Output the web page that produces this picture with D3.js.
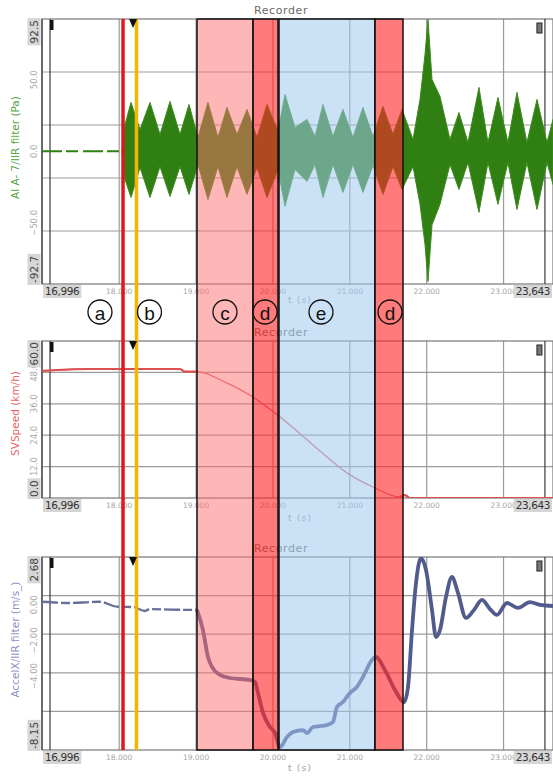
<!DOCTYPE html>
<html>
<head>
<meta charset="utf-8">
<script src="https://cdn.jsdelivr.net/npm/d3@7"></script>
<style>
  body{margin:0;background:#fff}
  svg{display:block}
</style>
</head>
<body>
<svg id="chart" width="553" height="777"></svg>
<script>
// time window of the recorder (s)
const tStart = 16.996, tEnd = 23.643;
const xTicks = [18, 19, 20, 21, 22, 23];

// microphone signal, drawn as its envelope (Pa)
const micT  = [18.037,18.076,18.154,18.271,18.401,18.531,18.661,18.791,18.908,19.025,19.155,19.285,19.402,19.532,19.663,19.793,19.923,20.066,20.157,20.287,20.443,20.547,20.651,20.781,20.911,21.041,21.171,21.301,21.431,21.561,21.679,21.822,21.913,21.978,22.017,22.069,22.173,22.303,22.420,22.537,22.680,22.797,22.927,23.057,23.174,23.304,23.435,23.565,23.643];
const micHi = [0,18.8,34.2,15.3,34.2,11.8,34.9,11.8,32.8,9.7,34.2,9.7,30.7,11.8,29.3,9.7,32.8,13.9,39.8,16.7,22.3,10.4,32.8,10.4,29.3,9.7,30.7,10.4,31.4,11.8,29.3,8.3,36.3,67.7,92.2,50.3,38.4,8.3,27.2,6.2,44.7,6.2,37.7,6.2,41.2,6.2,36.3,6.2,22.3];
const micLo = [0,-19.6,-32.2,-11.3,-32.2,-10.6,-31.5,-10.6,-30.1,-9.2,-33.6,-10.6,-32.2,-10.6,-30.1,-11.3,-32.2,-12.6,-38.4,-12.6,-21.0,-9.2,-32.2,-9.2,-28.7,-9.2,-28.7,-9.9,-30.1,-10.6,-26.6,-10.6,-37.0,-65.1,-90.9,-51.4,-37.0,-9.2,-26.6,-7.8,-42.6,-7.8,-37.0,-7.8,-40.6,-7.8,-40.6,-7.8,-23.1];
const micQuietT = [16.996, 18.037];
const micQuietV = [0, 0];
const micTicks = [50, 0, -50];

// vehicle speed (km/h)
const speedT = [16.996,17.594,18.791,18.856,19.012,19.376,19.740,19.923,20.092,20.521,20.963,21.301,21.653,21.718,21.783,23.643];
const speedV = [48.6,49.3,49.3,48.3,48.3,44.3,38.6,34.8,31.0,20.3,9.6,4.2,0.4,1.1,0,0];
const speedTicks = [48, 36, 24, 12];

// longitudinal acceleration (m/s²)
const accT = [16.996,17.360,17.620,17.750,17.972,18.180,18.336,18.401,18.661,19.012,19.090,19.155,19.207,19.311,19.441,19.702,19.767,19.806,19.871,19.962,20.027,20.092,20.183,20.261,20.391,20.443,20.521,20.703,20.781,20.833,20.911,21.002,21.093,21.171,21.288,21.340,21.457,21.588,21.705,21.757,21.809,21.861,21.926,21.991,22.069,22.121,22.173,22.251,22.329,22.407,22.511,22.615,22.719,22.823,22.914,23.044,23.187,23.343,23.474,23.643];
const accV = [0.17,0.10,0.15,0.17,-0.11,-0.13,-0.35,-0.24,-0.27,-0.29,-1.42,-2.93,-3.49,-3.94,-4.11,-4.22,-4.33,-4.95,-6.07,-6.86,-7.20,-7.99,-7.42,-7.14,-7.03,-7.20,-6.86,-6.75,-6.58,-5.74,-5.46,-4.95,-4.61,-4.05,-3.10,-2.93,-3.66,-4.78,-5.46,-4.61,-1.42,1.22,2.62,1.95,-0.29,-1.81,-1.42,0.44,1.56,0.66,-0.74,-0.29,0.27,-0.24,-0.57,0.10,-0.18,0.15,-0.01,-0.07];
const accTicks = [0, -2, -4];

// annotated phases
const phaseNames  = ["c", "d", "e", "d"];
const phaseStart  = [19.012, 19.741, 20.079, 21.327];
const phaseEnd    = [19.741, 20.066, 21.327, 21.692];
const phaseFill   = ["rgba(255,110,110,0.5)", "rgba(255,40,40,0.62)", "rgba(160,200,238,0.55)", "rgba(255,40,40,0.62)"];
const eventNames  = ["a", "b"];
const eventT      = [18.05, 18.225];
const eventColor  = ["#e4161c", "#f4b400"];
const labelNames  = ["a", "b", "c", "d", "e", "d"];
const labelT      = [17.750, 18.394, 19.376, 19.897, 20.625, 21.523];
const cursorT = [17.10, 23.538];
const markerT = 18.18;

const svg = d3.select("#chart");
const x = d3.scaleLinear().domain([tStart, tEnd]).range([42, 553]);
const uiFont = "DejaVu Sans, Verdana, sans-serif";

const panels = [
  {top:19,  bottom:284, domain:[-92.7, 92.5], ticks:micTicks,   fmt:d3.format(".1f"), hi:"92.5", lo:"-92.7", title:"Al A- 7/IIR filter (Pa)", tcol:"#56a545", tsy:0},
  {top:341, bottom:498, domain:[0, 60],       ticks:speedTicks, fmt:d3.format(".1f"), hi:"60.0", lo:"0.0",   title:"SVSpeed (km/h)", tcol:"#e46666", tsy:20},
  {top:557, bottom:750, domain:[-8.15, 2.68], ticks:accTicks,   fmt:d3.format(".2f"), hi:"2.68", lo:"-8.15", title:"AccelX/IIR filter (m/s_)", tcol:"#8c90c4", tsy:18}
];
panels.forEach(p=>{ p.y = d3.scaleLinear().domain(p.domain).range([p.bottom, p.top]); });

const defs = svg.append("defs");
panels.forEach((p,i)=>{
  defs.append("clipPath").attr("id","clip"+i)
    .append("rect").attr("x",42).attr("y",p.top).attr("width",511).attr("height",p.bottom-p.top);
});

const gBase = svg.append("g");

function rotLabel(g, px, py, txt, anchor, opts){
  const t = g.append("g").attr("transform",`translate(${px},${py}) rotate(-90)`);
  const text = t.append("text")
    .attr("text-anchor", anchor)
    .attr("dominant-baseline","central")
    .attr("font-family", uiFont)
    .attr("font-size", opts.size)
    .attr("fill", opts.color)
    .text(txt);
  if(opts.box){
    const w = text.node().getComputedTextLength();
    const u0 = anchor==="end" ? -w-2 : (anchor==="start" ? -2 : -w/2-2);
    t.insert("rect","text").attr("x",u0).attr("y",-6.5).attr("width",w+4).attr("height",13).attr("fill","#d6d6d6");
  }
}

panels.forEach((p,i)=>{
  const g = gBase.append("g");
  const h = p.bottom - p.top;

  // title
  g.append("text").attr("x",281).attr("y",p.top-5).attr("text-anchor","middle")
    .attr("font-family",uiFont).attr("font-size",11).attr("fill","#6b6b6b").attr("letter-spacing",0.6)
    .text("Recorder");

  // grid
  d3.range(1,5).forEach(k=>{
    const yy = p.top + k*h/5;
    g.append("line").attr("x1",42).attr("x2",553).attr("y1",yy).attr("y2",yy)
      .attr("stroke","#9b9b9b").attr("stroke-width",1.2);
  });
  xTicks.forEach(tk=>{
    g.append("line").attr("x1",x(tk)).attr("x2",x(tk)).attr("y1",p.top).attr("y2",p.bottom)
      .attr("stroke","#9b9b9b").attr("stroke-width",1.2);
  });
  g.append("rect").attr("x",42).attr("y",p.top).attr("width",511).attr("height",h)
    .attr("fill","none").attr("stroke","#777").attr("stroke-width",1.2);
  g.append("line").attr("x1",42).attr("x2",42).attr("y1",p.top).attr("y2",p.bottom)
    .attr("stroke","#555").attr("stroke-width",1.5);

  // cursors
  cursorT.forEach(c=>{
    g.append("line").attr("x1",x(c)).attr("x2",x(c)).attr("y1",p.top).attr("y2",p.bottom)
      .attr("stroke","#3a3a3a").attr("stroke-width",1.2);
  });
  g.append("rect").attr("x",x(cursorT[0])).attr("y",p.top+1).attr("width",3.5).attr("height",10).attr("fill","#111");
  g.append("rect").attr("x",x(cursorT[1])-8).attr("y",p.top+4).attr("width",5).attr("height",10)
    .attr("fill","#777").attr("stroke","#222").attr("stroke-width",1);

  // y ticks
  p.ticks.forEach(v=>{
    rotLabel(g, 34, p.y(v), p.fmt(v), "middle", {size:8.5, color:"#a8a8a8"});
  });
  rotLabel(g, 34, p.top+1, p.hi, "end", {size:10.5, color:"#444", box:true});
  rotLabel(g, 34, p.bottom-1, p.lo, "start", {size:10.5, color:"#444", box:true});
  rotLabel(g, 15, (p.top+p.bottom)/2 + (i===0?-4:(i===1?-6:-14)), p.title, "middle", {size:10.5, color:p.tcol});

  // x ticks
  xTicks.forEach(tk=>{
    g.append("text").attr("x",x(tk)).attr("y",p.bottom+10).attr("text-anchor","middle")
      .attr("font-family",uiFont).attr("font-size",7.5).attr("fill","#a5a5a5")
      .text(d3.format(".3f")(tk));
  });
  [[tStart,"start",43],[tEnd,"end",552]].forEach(([tv,anc,px])=>{
    const txt = g.append("text").attr("x",px+ (anc==="start"?2:-2)).attr("y",p.bottom+11).attr("text-anchor",anc)
      .attr("font-family",uiFont).attr("font-size",10.5).attr("fill","#333").attr("letter-spacing",-0.4)
      .text(d3.format(".3f")(tv).replace(".",","));
    const w = txt.node().getComputedTextLength();
    const bx = anc==="start" ? px : px - w - 4;
    g.insert("rect", () => txt.node()).attr("x",bx).attr("y",p.bottom+1).attr("width",w+4).attr("height",13).attr("fill","#d6d6d6");
  });
  g.append("text").attr("x",300).attr("y",p.bottom+p.tsy+(i===0?19:3)).attr("text-anchor","middle")
    .attr("font-family",uiFont).attr("font-size",9.5).attr("fill","#a5a5a5").attr("letter-spacing",1)
    .text("t (s)");
});

// ---- series ----
const pm = panels[0], ps = panels[1], pa = panels[2];
const micData = micT.map((t,i)=>({t, hi:micHi[i], lo:micLo[i]}));
gBase.append("path").datum(micData)
  .attr("clip-path","url(#clip0)")
  .attr("d", d3.area().x(d=>x(d.t)).y0(d=>pm.y(d.lo)).y1(d=>pm.y(d.hi)))
  .attr("fill","#2f7f12").attr("stroke","#3b8a1c").attr("stroke-width",1);
gBase.append("path").datum(micQuietT.map((t,i)=>({t, v:micQuietV[i]})))
  .attr("d", d3.line().x(d=>x(d.t)).y(d=>pm.y(d.v)))
  .attr("stroke","#2f7f12").attr("stroke-width",2).attr("stroke-dasharray","20,4,12,5").attr("fill","none");

const spData = speedT.map((t,i)=>({t, v:speedV[i]}));
const spLine = d3.line().x(d=>x(d.t)).y(d=>ps.y(d.v)).curve(d3.curveMonotoneX);
gBase.append("path").datum(spData).attr("clip-path","url(#clip1)")
  .attr("d", spLine).attr("fill","none").attr("stroke","#e46a6a").attr("stroke-width",1.3);
[spData.slice(0,5), spData.slice(12)].forEach(seg=>{
  gBase.append("path").datum(seg).attr("clip-path","url(#clip1)")
    .attr("d", spLine).attr("fill","none").attr("stroke","#dc5050").attr("stroke-width",2.2);
});

const acData = accT.map((t,i)=>({t, v:accV[i]}));
const acLine = d3.line().x(d=>x(d.t)).y(d=>pa.y(d.v)).curve(d3.curveMonotoneX);
gBase.append("path").datum(acData.filter(d=>d.t<=19.012)).attr("clip-path","url(#clip2)")
  .attr("d", acLine).attr("fill","none").attr("stroke","#66709a").attr("stroke-width",2.3)
  .attr("stroke-dasharray","16,3,9,3");
gBase.append("path").datum(acData.filter(d=>d.t>=19.012)).attr("clip-path","url(#clip2)")
  .attr("d", acLine).attr("fill","none").attr("stroke","#525c8c").attr("stroke-width",3.8)
  .attr("stroke-linejoin","round");

// ---- overlays ----
const gOver = svg.append("g");
const yTop = panels[0].top, yBot = panels[2].bottom;
phaseNames.forEach((n,i)=>{
  gOver.append("rect")
    .attr("x", x(phaseStart[i])).attr("y", yTop)
    .attr("width", x(phaseEnd[i]) - x(phaseStart[i])).attr("height", yBot - yTop)
    .attr("fill", phaseFill[i]).attr("stroke","#111").attr("stroke-width",1.5);
});
eventNames.forEach((n,i)=>{
  gOver.append("line").attr("x1",x(eventT[i])).attr("x2",x(eventT[i])).attr("y1",yTop).attr("y2",yBot)
    .attr("stroke",eventColor[i]).attr("stroke-width",3.5);
});
panels.forEach(p=>{
  const mx = x(markerT);
  gOver.append("path").attr("d",`M${mx-4},${p.top} L${mx+4},${p.top} L${mx},${p.top+9} Z`).attr("fill","#111");
});

// circled letters
labelNames.forEach((n,i)=>{
  const cx = x(labelT[i]), cy = 312;
  gOver.append("circle").attr("cx",cx).attr("cy",cy).attr("r",12)
    .attr("fill","none").attr("stroke","#111").attr("stroke-width",1.3);
  gOver.append("text").attr("x",cx).attr("y",cy+1).attr("text-anchor","middle").attr("dominant-baseline","central")
    .attr("font-family","Liberation Sans, Arial, sans-serif").attr("font-size",19).attr("fill","#111")
    .text(n);
});
</script>
</body>
</html>
